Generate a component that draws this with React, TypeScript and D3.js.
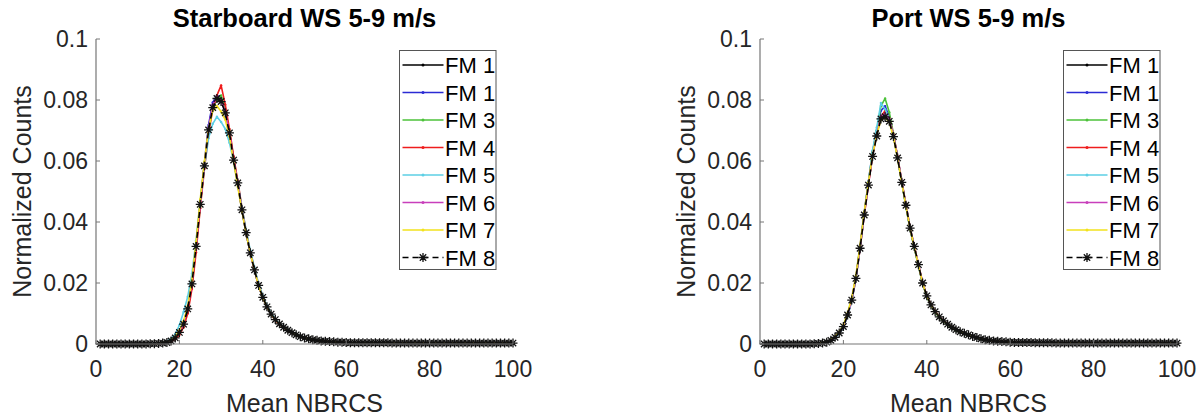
import React from 'react';
import * as d3 from 'd3';

// ---------- data ----------
const xValues = [
  1, 2, 3, 4, 5, 6, 7, 8, 9, 10, 11, 12, 13, 14, 15, 16, 17, 18, 19, 20,
  21, 22, 23, 24, 25, 26, 27, 28, 29, 30, 31, 32, 33, 34, 35, 36, 37, 38, 39, 40,
  41, 42, 43, 44, 45, 46, 47, 48, 49, 50, 51, 52, 53, 54, 55, 56, 57, 58, 59, 60,
  61, 62, 63, 64, 65, 66, 67, 68, 69, 70, 71, 72, 73, 74, 75, 76, 77, 78, 79, 80,
  81, 82, 83, 84, 85, 86, 87, 88, 89, 90, 91, 92, 93, 94, 95, 96, 97, 98, 99, 100,
];

const xTicks = [0, 20, 40, 60, 80, 100];
const yTicks = [0, 0.02, 0.04, 0.06, 0.08, 0.1];
const yTickLabels = ['0', '0.02', '0.04', '0.06', '0.08', '0.1'];

const seriesNames = ['FM 1', 'FM 1', 'FM 3', 'FM 4', 'FM 5', 'FM 6', 'FM 7', 'FM 8'];
const seriesColors = ['#000000', '#2b2bd4', '#4cc23a', '#ef1d1d', '#5ccfe4', '#c83fbb', '#f2e21c', '#000000'];

const panelTitles = ['Starboard WS 5-9 m/s', 'Port WS 5-9 m/s'];
const xLabel = 'Mean NBRCS';
const yLabel = 'Normalized Counts';

const headZeros = [0, 0, 0, 0, 0, 0, 0, 0, 0, 0];
const leftRow6 = [0.0017, 0.0014, 0.0012, 0.001, 0.0009, 0.0008, 0.0007, 0.0006, 0.0006, 0.0005];
const leftRow7 = [0.0004, 0.0004, 0.0004, 0.0004, 0.0004, 0.0004, 0.0004, 0.0004, 0.0004, 0.0004];
const tailRows = [
  0.0003, 0.0003, 0.0003, 0.0003, 0.0003, 0.0003, 0.0003, 0.0003, 0.0003, 0.0003,
  0.0003, 0.0003, 0.0003, 0.0003, 0.0003, 0.0003, 0.0003, 0.0003, 0.0003, 0.0003,
  0.0003, 0.0003, 0.0003, 0.0003, 0.0003, 0.0003, 0.0003, 0.0003, 0.0003, 0.0003,
];
const leftRow5 = [0.0121, 0.0097, 0.0079, 0.0065, 0.0054, 0.0045, 0.0037, 0.003, 0.0024, 0.002];

// Starboard (left)
const stbFM1 = [...headZeros,
  0, 0, 0.0001, 0.0001, 0.0002, 0.0003, 0.0006, 0.0011, 0.0021, 0.004,
  0.0068, 0.0118, 0.02, 0.0322, 0.046, 0.059, 0.071, 0.0785, 0.081, 0.0805,
  0.0765, 0.0695, 0.0605, 0.0525, 0.0438, 0.0363, 0.0298, 0.0242, 0.019, 0.0152,
  ...leftRow5, ...leftRow6, ...leftRow7, ...tailRows];
const stbFM1b = [...headZeros,
  0, 0, 0.0001, 0.0001, 0.0002, 0.0003, 0.0006, 0.0012, 0.0022, 0.0041,
  0.007, 0.012, 0.0203, 0.0325, 0.0463, 0.0595, 0.0718, 0.0792, 0.0815, 0.0808,
  0.0765, 0.069, 0.0602, 0.0522, 0.0437, 0.0362, 0.0298, 0.0241, 0.019, 0.0151,
  ...leftRow5, ...leftRow6, ...leftRow7, ...tailRows];
const stbFM3 = [...headZeros,
  0, 0, 0.0001, 0.0001, 0.0002, 0.0003, 0.0005, 0.001, 0.0019, 0.0036,
  0.0062, 0.011, 0.019, 0.0312, 0.045, 0.058, 0.07, 0.0775, 0.08, 0.0815,
  0.077, 0.07, 0.061, 0.053, 0.0443, 0.0368, 0.0302, 0.0246, 0.0194, 0.0155,
  0.0123, 0.0099, 0.008, 0.0066, 0.0055, 0.0045, 0.0037, 0.003, 0.0025, 0.002,
  ...leftRow6, ...leftRow7, ...tailRows];
const stbFM4 = [...headZeros,
  0, 0, 0.0001, 0.0001, 0.0001, 0.0002, 0.0004, 0.0008, 0.0016, 0.003,
  0.0055, 0.01, 0.018, 0.03, 0.0445, 0.0575, 0.069, 0.077, 0.0815, 0.0848,
  0.0785, 0.0705, 0.0615, 0.0535, 0.0447, 0.037, 0.0303, 0.0246, 0.0193, 0.0154,
  0.0122, 0.0097, 0.0078, 0.0064, 0.0053, 0.0044, 0.0036, 0.0029, 0.0024, 0.002,
  ...leftRow6, ...leftRow7, ...tailRows];
const stbFM5 = [...headZeros,
  0, 0, 0.0001, 0.0002, 0.0003, 0.0005, 0.0009, 0.0017, 0.0032, 0.0062,
  0.0105, 0.0155, 0.023, 0.034, 0.047, 0.058, 0.0675, 0.0722, 0.0745, 0.0728,
  0.0705, 0.066, 0.0598, 0.0527, 0.0447, 0.0373, 0.0307, 0.025, 0.0198, 0.0158,
  0.0126, 0.0101, 0.0082, 0.0067, 0.0056, 0.0046, 0.0038, 0.0031, 0.0025, 0.0021,
  ...leftRow6, ...leftRow7, ...tailRows];
const stbFM6 = [...headZeros,
  0, 0, 0.0001, 0.0001, 0.0002, 0.0003, 0.0006, 0.0011, 0.0021, 0.004,
  0.0067, 0.0117, 0.0199, 0.0322, 0.046, 0.0588, 0.0708, 0.0785, 0.0808, 0.08,
  0.0762, 0.0694, 0.0604, 0.0527, 0.0439, 0.0364, 0.0298, 0.0242, 0.0191, 0.0152,
  ...leftRow5, ...leftRow6, ...leftRow7, ...tailRows];
const stbFM7 = [...headZeros,
  0, 0, 0.0001, 0.0001, 0.0002, 0.0004, 0.0007, 0.0013, 0.0024, 0.0045,
  0.0075, 0.0125, 0.0208, 0.0335, 0.0475, 0.0598, 0.0705, 0.0765, 0.078, 0.0762,
  0.0735, 0.068, 0.0598, 0.0515, 0.0435, 0.0362, 0.0298, 0.0242, 0.019, 0.0151,
  ...leftRow5, ...leftRow6, ...leftRow7, ...tailRows];
const stbFM8 = [...headZeros,
  0, 0, 0.0001, 0.0001, 0.0002, 0.0003, 0.0005, 0.001, 0.002, 0.0038,
  0.0065, 0.0115, 0.0197, 0.032, 0.0458, 0.0584, 0.0702, 0.0775, 0.0805, 0.0795,
  0.0758, 0.0692, 0.0603, 0.0528, 0.044, 0.0365, 0.0299, 0.0243, 0.0192, 0.0153,
  0.0122, 0.0098, 0.008, 0.0066, 0.0055, 0.0045, 0.0037, 0.003, 0.0024, 0.002,
  ...leftRow6, ...leftRow7, ...tailRows];

// Port (right)
const rightRow5 = [0.0128, 0.0106, 0.0089, 0.0076, 0.0065, 0.0055, 0.0047, 0.004, 0.0035, 0.003];
const rightRow6 = [0.0025, 0.0021, 0.0017, 0.0014, 0.0012, 0.001, 0.0009, 0.0008, 0.0007, 0.0006];
const rightRow7 = [0.0005, 0.0005, 0.0005, 0.0005, 0.0005, 0.0004, 0.0004, 0.0004, 0.0004, 0.0004];
const rightRow2 = [0, 0, 0.0001, 0.0002, 0.0003, 0.0006, 0.0012, 0.0022, 0.0036, 0.0057];

const portFM1 = [...headZeros,
  0, 0, 0.0001, 0.0002, 0.0003, 0.0006, 0.0012, 0.0022, 0.0037, 0.0058,
  0.0096, 0.0146, 0.0218, 0.0318, 0.0428, 0.0527, 0.0622, 0.069, 0.0745, 0.0755,
  0.0735, 0.0682, 0.061, 0.053, 0.0453, 0.0378, 0.0318, 0.0258, 0.0199, 0.0157,
  ...rightRow5, ...rightRow6, ...rightRow7, ...tailRows];
const portFM1b = [...headZeros, ...rightRow2,
  0.0096, 0.0146, 0.022, 0.0322, 0.0432, 0.0533, 0.063, 0.07, 0.0765, 0.078,
  0.0745, 0.0685, 0.0612, 0.053, 0.0452, 0.0378, 0.0317, 0.0257, 0.0198, 0.0156,
  ...rightRow5, ...rightRow6, ...rightRow7, ...tailRows];
const portFM3 = [...headZeros, ...rightRow2,
  0.0094, 0.0143, 0.0215, 0.0316, 0.0428, 0.053, 0.0628, 0.07, 0.078, 0.0805,
  0.076, 0.069, 0.0612, 0.0528, 0.045, 0.0375, 0.0315, 0.0255, 0.0197, 0.0155,
  0.0125, 0.0103, 0.0086, 0.0073, 0.0062, 0.0052, 0.0044, 0.0038, 0.0033, 0.0028,
  0.0024, 0.002, 0.0016, 0.0013, 0.0011, 0.001, 0.0009, 0.0008, 0.0007, 0.0006,
  ...rightRow7, ...tailRows];
const portFM4 = [...headZeros, ...rightRow2,
  0.0093, 0.0142, 0.0213, 0.0312, 0.0422, 0.0522, 0.0618, 0.0688, 0.0745, 0.0765,
  0.074, 0.0688, 0.0615, 0.0535, 0.0458, 0.0382, 0.0322, 0.0262, 0.0202, 0.016,
  0.013, 0.0108, 0.009, 0.0077, 0.0066, 0.0056, 0.0048, 0.0041, 0.0036, 0.0031,
  ...rightRow6, ...rightRow7, ...tailRows];
const portFM5 = [...headZeros,
  0, 0, 0.0001, 0.0002, 0.0003, 0.0005, 0.0011, 0.002, 0.0034, 0.0054,
  0.009, 0.014, 0.0212, 0.0313, 0.0425, 0.053, 0.0635, 0.071, 0.079, 0.077,
  0.0738, 0.0684, 0.0612, 0.0532, 0.0456, 0.0381, 0.032, 0.026, 0.02, 0.0158,
  ...rightRow5, ...rightRow6, ...rightRow7, ...tailRows];
const portFM6 = [...headZeros, ...rightRow2,
  0.0095, 0.0144, 0.0216, 0.0315, 0.0425, 0.0524, 0.0618, 0.0686, 0.0745, 0.0755,
  0.0738, 0.0684, 0.0612, 0.0532, 0.0455, 0.038, 0.032, 0.026, 0.0201, 0.0159,
  ...rightRow5, ...rightRow6, ...rightRow7, ...tailRows];
const portFM7 = [...headZeros,
  0, 0, 0.0001, 0.0002, 0.0004, 0.0007, 0.0014, 0.0025, 0.004, 0.0063,
  0.0102, 0.0152, 0.0225, 0.0325, 0.0433, 0.053, 0.062, 0.0685, 0.0735, 0.0742,
  0.0728, 0.0678, 0.0607, 0.0528, 0.0452, 0.0378, 0.0318, 0.0258, 0.0199, 0.0157,
  ...rightRow5, ...rightRow6, ...rightRow7, ...tailRows];
const portFM8 = [...headZeros, ...rightRow2,
  0.0095, 0.0144, 0.0215, 0.0314, 0.0423, 0.0521, 0.0615, 0.0682, 0.0738, 0.0745,
  0.073, 0.068, 0.061, 0.053, 0.0455, 0.038, 0.032, 0.026, 0.02, 0.0158,
  ...rightRow5, ...rightRow6, ...rightRow7, ...tailRows];

const stbSeries = [stbFM1, stbFM1b, stbFM3, stbFM4, stbFM5, stbFM6, stbFM7, stbFM8];
const portSeries = [portFM1, portFM1b, portFM3, portFM4, portFM5, portFM6, portFM7, portFM8];

// ---------- layout ----------
const W = 1198;
const H = 419;
const FONT = '"Liberation Sans", Arial, Helvetica, sans-serif';
const TEXT = '#262626';
const AXIS = '#767676';

const starPath = 'M-4.5,0H4.5M0,-4.5V4.5M-3.2,-3.2L3.2,3.2M-3.2,3.2L3.2,-3.2';

function Panel({ offset, title, series }: { offset: number; title: string; series: number[][] }) {
  const x = d3.scaleLinear().domain([0, 100]).range([96 + offset, 513 + offset]);
  const y = d3.scaleLinear().domain([0, 0.1]).range([344, 39]);
  const line = d3
    .line<number>()
    .x((_, i) => x(xValues[i]))
    .y((d) => y(d));
  const cx = (x.range()[0] + x.range()[1]) / 2;
  const cy = (y.range()[0] + y.range()[1]) / 2;
  const bx = 399.5 + offset;
  const by = 50.5;
  const legendStep = 27.5;

  return (
    <g>
      {series.map((s, si) => {
        const isStar = si === 7;
        return (
          <g key={si}>
            <path
              d={line(s) || ''}
              fill="none"
              stroke={seriesColors[si]}
              strokeWidth={1.6}
              strokeDasharray={isStar ? '6 4' : undefined}
              strokeLinejoin="round"
            />
            {s.map((v, i) =>
              isStar ? (
                <path
                  key={i}
                  d={starPath}
                  transform={`translate(${x(xValues[i])},${y(v)})`}
                  stroke="#111"
                  strokeWidth={1.3}
                  fill="none"
                />
              ) : (
                <circle key={i} cx={x(xValues[i])} cy={y(v)} r={1.2} fill={seriesColors[si]} />
              )
            )}
          </g>
        );
      })}

      <line x1={x(0)} x2={x(0)} y1={y(0)} y2={y(0.1)} stroke={AXIS} strokeWidth={1.2} />
      <line x1={x(0)} x2={x(100)} y1={y(0)} y2={y(0)} stroke={AXIS} strokeWidth={1.2} />
      {yTicks.map((t, i) => (
        <g key={'y' + i}>
          <line x1={x(0)} x2={x(0) + 4} y1={y(t)} y2={y(t)} stroke={AXIS} strokeWidth={1} />
          <text x={x(0) - 8} y={y(t) + 8} textAnchor="end" fontFamily={FONT} fontSize={23} fill={TEXT}>
            {yTickLabels[i]}
          </text>
        </g>
      ))}
      {xTicks.map((t, i) => (
        <g key={'x' + i}>
          <line x1={x(t)} x2={x(t)} y1={y(0)} y2={y(0) - 4} stroke={AXIS} strokeWidth={1} />
          <text x={x(t)} y={377} textAnchor="middle" fontFamily={FONT} fontSize={23} fill={TEXT}>
            {t}
          </text>
        </g>
      ))}

      <text x={cx} y={27} textAnchor="middle" fontFamily={FONT} fontSize={25.5} fontWeight="bold" fill="#000">
        {title}
      </text>
      <text x={cx} y={412} textAnchor="middle" fontFamily={FONT} fontSize={25} fill={TEXT}>
        {xLabel}
      </text>
      <text
        transform={`translate(${31 + offset},${cy}) rotate(-90)`}
        textAnchor="middle"
        fontFamily={FONT}
        fontSize={25}
        fill={TEXT}
      >
        {yLabel}
      </text>

      <rect x={bx} y={by} width={96.5} height={219} fill="#fff" stroke="#555" strokeWidth={1} />
      {seriesNames.map((name, i) => {
        const ly = 65 + i * legendStep;
        const isStar = i === 7;
        return (
          <g key={'lg' + i}>
            <line
              x1={bx + 3}
              x2={bx + 44}
              y1={ly}
              y2={ly}
              stroke={seriesColors[i]}
              strokeWidth={1.5}
              strokeDasharray={isStar ? '6 4' : undefined}
            />
            {isStar ? (
              <path d={starPath} transform={`translate(${bx + 23.5},${ly})`} stroke="#111" strokeWidth={1.3} fill="none" />
            ) : (
              <circle cx={bx + 23.5} cy={ly} r={1.5} fill={seriesColors[i]} />
            )}
            <text x={bx + 45.5} y={ly + 8} fontFamily={FONT} fontSize={22} fill="#000">
              {name}
            </text>
          </g>
        );
      })}
    </g>
  );
}

export default function App() {
  return (
    <svg
      width={W}
      height={H}
      viewBox={`0 0 ${W} ${H}`}
      style={{ position: 'absolute', left: 0, top: 0, background: '#fff' }}
    >
      <rect x={0} y={0} width={W} height={H} fill="#fff" />
      <Panel offset={0} title={panelTitles[0]} series={stbSeries} />
      <Panel offset={664} title={panelTitles[1]} series={portSeries} />
    </svg>
  );
}
